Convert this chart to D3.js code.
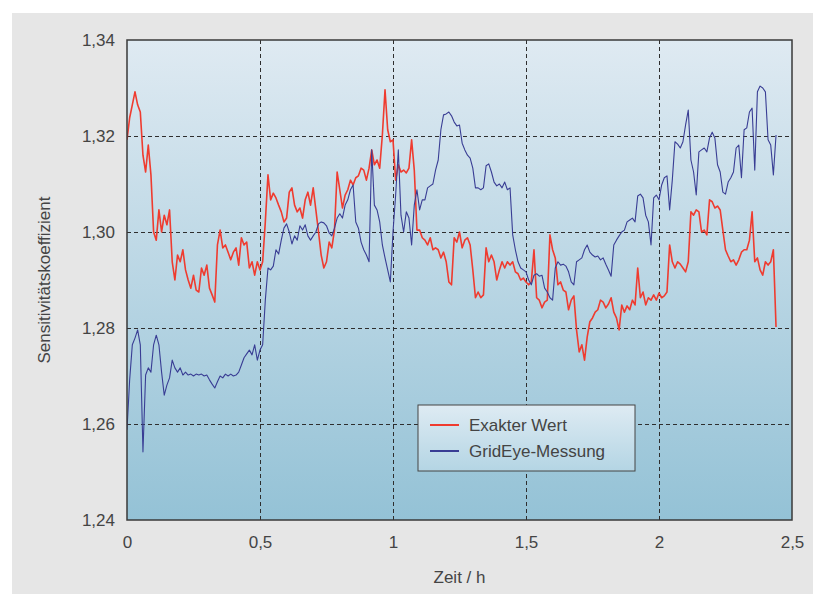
<!DOCTYPE html>
<html>
<head>
<meta charset="utf-8">
<script src="https://cdnjs.cloudflare.com/ajax/libs/d3/7.8.5/d3.min.js"></script>
<style>
  body { margin: 0; background: #fff; }
  text { font-family: "Liberation Sans", Arial, sans-serif; fill: #444; }
</style>
</head>
<body>
<div id="chart"></div>
<script>
// sampling interval of both series, hours
var step = 0.01;

var exakt = [
  1.3192,1.3238,1.3265,1.3292,1.3265,1.3250,1.3160,1.3125,1.3181,1.3119,
  1.3000,1.2983,1.3046,1.3000,1.3035,1.3015,1.3046,1.2938,1.2900,1.2952,
  1.2938,1.2963,1.2921,1.2900,1.2883,1.2910,1.2879,1.2875,1.2925,1.2910,
  1.2931,1.2883,1.2869,1.2854,1.2973,1.3004,1.2967,1.2973,1.2958,1.2942,
  1.2958,1.2967,1.2931,1.2988,1.2973,1.2979,1.2925,1.2938,1.2910,1.2938,
  1.2921,1.2938,1.3021,1.3119,1.3067,1.3081,1.3071,1.3056,1.3042,1.3021,
  1.3029,1.3083,1.3092,1.3056,1.3042,1.3050,1.3029,1.3067,1.3083,1.3056,
  1.3092,1.3046,1.3000,1.2952,1.2925,1.2938,1.2979,1.2967,1.3004,1.3125,
  1.3088,1.3050,1.3077,1.3088,1.3108,1.3098,1.3113,1.3117,1.3133,1.3129,
  1.3108,1.3133,1.3171,1.3140,1.3150,1.3133,1.3202,1.3296,1.3213,1.3188,
  1.3192,1.3108,1.3140,1.3125,1.3129,1.3123,1.3133,1.3192,1.3129,1.3004,
  1.3004,1.2988,1.2983,1.2973,1.2988,1.2963,1.2967,1.2963,1.2946,1.2958,
  1.2938,1.2896,1.2890,1.2988,1.2979,1.3000,1.2967,1.2983,1.2988,1.2973,
  1.2921,1.2863,1.2875,1.2863,1.2869,1.2967,1.2938,1.2952,1.2938,1.2900,
  1.2921,1.2938,1.2925,1.2938,1.2931,1.2938,1.2917,1.2913,1.2900,1.2904,
  1.2896,1.2890,1.2896,1.2963,1.2863,1.2858,1.2842,1.2854,1.2858,1.2994,
  1.2963,1.2946,1.2890,1.2896,1.2879,1.2875,1.2838,1.2858,1.2867,1.2796,
  1.2750,1.2765,1.2733,1.2781,1.2813,1.2821,1.2833,1.2838,1.2858,1.2854,
  1.2842,1.2850,1.2863,1.2833,1.2821,1.2796,1.2848,1.2833,1.2846,1.2838,
  1.2858,1.2848,1.2925,1.2863,1.2875,1.2848,1.2863,1.2858,1.2869,1.2858,
  1.2873,1.2863,1.2867,1.2875,1.2973,1.2938,1.2925,1.2938,1.2933,1.2925,
  1.2917,1.2938,1.3042,1.3035,1.3046,1.3042,1.3000,1.3004,1.2994,1.3067,
  1.3063,1.3050,1.3054,1.3046,1.3004,1.2963,1.2950,1.2938,1.2942,1.2931,
  1.2942,1.2958,1.2963,1.2963,1.2983,1.3042,1.2938,1.2946,1.2921,1.2910,
  1.2938,1.2931,1.2938,1.2963,1.2802
];

var gridEye = [
  1.2588,1.2692,1.2765,1.2779,1.2796,1.2765,1.2542,1.2702,1.2717,1.2708,
  1.2765,1.2785,1.2765,1.2708,1.2660,1.2681,1.2696,1.2733,1.2717,1.2708,
  1.2717,1.2702,1.2708,1.2702,1.2704,1.2700,1.2704,1.2702,1.2704,1.2700,
  1.2702,1.2692,1.2683,1.2675,1.2688,1.2700,1.2696,1.2704,1.2700,1.2704,
  1.2700,1.2702,1.2708,1.2723,1.2738,1.2746,1.2754,1.2744,1.2765,1.2733,
  1.2754,1.2765,1.2858,1.2925,1.2921,1.2929,1.2963,1.2954,1.2983,1.3008,
  1.3017,1.3000,1.2975,1.2992,1.2983,1.3013,1.3004,1.3015,1.2992,1.2983,
  1.2992,1.3000,1.3017,1.3021,1.3019,1.3013,1.2998,1.2992,1.3008,1.3029,
  1.3038,1.3029,1.3056,1.3067,1.3088,1.3098,1.3021,1.3008,1.2979,1.2963,
  1.2952,1.2938,1.3171,1.3056,1.3046,1.3021,1.2973,1.2946,1.2921,1.2896,
  1.3000,1.3077,1.3171,1.3035,1.3000,1.3042,1.3029,1.2973,1.3056,1.3088,
  1.3046,1.3067,1.3067,1.3092,1.3096,1.3100,1.3129,1.3150,1.3213,1.3244,
  1.3246,1.3250,1.3242,1.3229,1.3221,1.3223,1.3185,1.3171,1.3160,1.3154,
  1.3133,1.3092,1.3092,1.3088,1.3092,1.3138,1.3142,1.3125,1.3104,1.3096,
  1.3100,1.3092,1.3104,1.3088,1.3092,1.2994,1.2963,1.2938,1.2925,1.2921,
  1.2917,1.2900,1.2890,1.2910,1.2913,1.2908,1.2910,1.2883,1.2875,1.2863,
  1.2858,1.2925,1.2938,1.2931,1.2933,1.2929,1.2917,1.2896,1.2890,1.2938,
  1.2942,1.2946,1.2963,1.2973,1.2958,1.2952,1.2948,1.2950,1.2942,1.2946,
  1.2933,1.2921,1.2908,1.2973,1.2983,1.2992,1.3000,1.3004,1.3021,1.3025,
  1.3029,1.3021,1.3075,1.3079,1.3071,1.3035,1.3021,1.2973,1.3071,1.3077,
  1.3067,1.3098,1.3113,1.3117,1.3046,1.3108,1.3188,1.3183,1.3175,1.3188,
  1.3223,1.3254,1.3150,1.3125,1.3077,1.3167,1.3171,1.3175,1.3167,1.3196,
  1.3208,1.3196,1.3140,1.3125,1.3083,1.3079,1.3104,1.3113,1.3125,1.3175,
  1.3181,1.3113,1.3213,1.3217,1.3250,1.3258,1.3129,1.3292,1.3304,1.3300,
  1.3292,1.3192,1.3181,1.3119,1.3202
];

var xTicks = [0, 0.5, 1, 1.5, 2, 2.5];
var yTicks = [1.24, 1.26, 1.28, 1.30, 1.32, 1.34];
var seriesNames = ["Exakter Wert", "GridEye-Messung"];
var seriesColors = ["#ef3b2f", "#393d94"];

var width = 813, height = 594;
var margin = {top: 40, right: 21, bottom: 74, left: 127};
var w = width - margin.left - margin.right,
    h = height - margin.top - margin.bottom;

var de = d3.formatLocale({decimal: ",", thousands: ".", grouping: [3], currency: ["", " €"]});

var svg = d3.select("#chart").append("svg")
    .attr("width", width)
    .attr("height", height);

var defs = svg.append("defs");
var grad = defs.append("linearGradient").attr("id", "plotBg")
    .attr("x1", 0).attr("y1", 0).attr("x2", 0).attr("y2", 1);
grad.append("stop").attr("offset", "0%").attr("stop-color", "#dfeaf2");
grad.append("stop").attr("offset", "100%").attr("stop-color", "#94c2d6");

var lgGrad = defs.append("linearGradient").attr("id", "legBg")
    .attr("x1", 0).attr("y1", 0).attr("x2", 0).attr("y2", 1);
lgGrad.append("stop").attr("offset", "0%").attr("stop-color", "#deebf3");
lgGrad.append("stop").attr("offset", "100%").attr("stop-color", "#b4d5e4");

defs.append("clipPath").attr("id", "clip")
  .append("rect").attr("width", w).attr("height", h);

// grey panel
svg.append("rect")
    .attr("x", 12).attr("y", 13)
    .attr("width", width - 12).attr("height", height - 13)
    .style("fill", "#e6e6e6");

var g = svg.append("g").attr("transform", "translate(" + margin.left + "," + margin.top + ")");

var x = d3.scaleLinear().domain([0, 2.5]).range([0, w]);
var y = d3.scaleLinear().domain([1.24, 1.34]).range([h, 0]);

g.append("rect").attr("width", w).attr("height", h).style("fill", "url(#plotBg)");

// dashed grid
g.selectAll(".vgrid").data(xTicks.slice(1, -1)).enter().append("line")
    .attr("x1", d => Math.round(x(d)) + 0.5).attr("x2", d => Math.round(x(d)) + 0.5)
    .attr("y1", 0).attr("y2", h)
    .style("stroke", "#2e2e2e").style("stroke-dasharray", "4,3").style("stroke-width", 1);
g.selectAll(".hgrid").data(yTicks.slice(1, -1)).enter().append("line")
    .attr("x1", 0).attr("x2", w)
    .attr("y1", d => Math.round(y(d)) + 0.5).attr("y2", d => Math.round(y(d)) + 0.5)
    .style("stroke", "#2e2e2e").style("stroke-dasharray", "4,3").style("stroke-width", 1);

var line = d3.line()
    .x((d, i) => x(i * step))
    .y(d => y(d));

var plot = g.append("g").attr("clip-path", "url(#clip)");
var widths = [1.6, 1.1];
[exakt, gridEye].forEach(function(s, k) {
  plot.append("path")
      .datum(s)
      .attr("d", line)
      .style("fill", "none")
      .style("stroke", seriesColors[k])
      .style("stroke-width", widths[k])
      .style("stroke-linejoin", "round");
});

g.append("rect").attr("width", w).attr("height", h)
    .style("fill", "none").style("stroke", "#3a3a3a").style("stroke-width", 1.5);

// axes
var xAxis = d3.axisBottom(x).tickValues(xTicks).tickSize(0).tickPadding(16)
    .tickFormat(d => de.format("~g")(d));
var yAxis = d3.axisLeft(y).tickValues(yTicks).tickSize(0).tickPadding(12)
    .tickFormat(de.format(".2f"));

var gx = g.append("g").attr("transform", "translate(0," + h + ")").call(xAxis);
var gy = g.append("g").call(yAxis);
[gx, gy].forEach(function(a) {
  a.select(".domain").remove();
  a.selectAll("text").style("font-size", "17px").style("fill", "#444")
    .style("font-family", "'Liberation Sans', Arial, sans-serif");
});

svg.append("text")
    .attr("x", margin.left + w / 2).attr("y", 583)
    .attr("text-anchor", "middle")
    .style("font-size", "17px")
    .text("Zeit / h");

svg.append("text")
    .attr("transform", "translate(50," + (margin.top + h / 2) + ") rotate(-90)")
    .attr("text-anchor", "middle")
    .style("font-size", "17px")
    .text("Sensitivitätskoeffizient");

// legend
var lg = svg.append("g").attr("transform", "translate(418,405)");
lg.append("rect").attr("width", 217).attr("height", 66)
    .style("fill", "url(#legBg)").style("stroke", "#444").style("stroke-width", 1);
seriesNames.forEach(function(n, k) {
  var yy = 20 + k * 26;
  lg.append("line").attr("x1", 12).attr("x2", 41).attr("y1", yy).attr("y2", yy)
      .style("stroke", seriesColors[k]).style("stroke-width", 2);
  lg.append("text").attr("x", 51).attr("y", yy).attr("dy", "0.35em")
      .style("font-size", "17px").text(n);
});
</script>
</body>
</html>
